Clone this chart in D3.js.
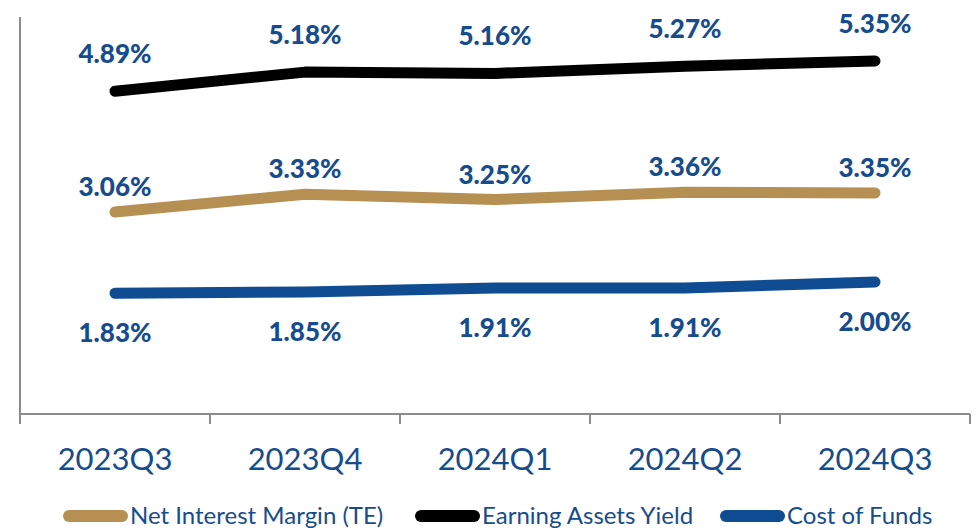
<!DOCTYPE html>
<html>
<head>
<meta charset="utf-8">
<script src="https://cdn.jsdelivr.net/npm/d3@7"></script>
<style>
  body { margin: 0; background: #fff; }
  svg { display: block; }
</style>
</head>
<body>
<div id="chart"></div>
<script>
// quarters on the x axis
var quarters = ["2023Q3", "2023Q4", "2024Q1", "2024Q2", "2024Q3"];

// series values (%)
var netInterestMargin = [3.06, 3.33, 3.25, 3.36, 3.35];
var earningAssetsYield = [4.89, 5.18, 5.16, 5.27, 5.35];
var costOfFunds = [1.83, 1.85, 1.91, 1.91, 2.00];

var seriesNames = ["Net Interest Margin (TE)", "Earning Assets Yield", "Cost of Funds"];

var width = 979, height = 530;
var labelBlue = "#164C8E";

var svg = d3.select("#chart")
  .append("svg")
  .attr("width", width)
  .attr("height", height);

var x = d3.scaleBand()
  .domain(quarters)
  .range([20, 970]);

var y = d3.scaleLinear()
  .domain([0, 6])
  .range([414, 18]);

// series setup: colour, width, label placement
var series = [
  { name: seriesNames[0], values: netInterestMargin, color: "#B68F52", width: 11, dy: -16 },
  { name: seriesNames[1], values: earningAssetsYield, color: "#000000", width: 11, dy: -28 },
  { name: seriesNames[2], values: costOfFunds, color: "#0F4C92", width: 11, dy: 49 }
];

// axes
var axisColor = "#8C8C8C";
svg.append("line")
  .attr("x1", 20).attr("x2", 20)
  .attr("y1", y(6) - 1).attr("y2", y(0))
  .attr("stroke", axisColor).attr("stroke-width", 2);

svg.append("line")
  .attr("x1", 20).attr("x2", 970)
  .attr("y1", y(0)).attr("y2", y(0))
  .attr("stroke", axisColor).attr("stroke-width", 2);

// tick marks sit on the band boundaries
var boundaries = quarters.map(function(q) { return x(q); }).concat([x.range()[1]]);
svg.selectAll(".tick-mark")
  .data(boundaries)
  .enter()
  .append("line")
  .attr("class", "tick-mark")
  .attr("x1", function(d) { return d; })
  .attr("x2", function(d) { return d; })
  .attr("y1", y(0))
  .attr("y2", y(0) + 10)
  .attr("stroke", axisColor).attr("stroke-width", 2);

// category labels
svg.append("g")
  .attr("transform", "translate(0," + y(0) + ")")
  .call(d3.axisBottom(x).tickSize(0).tickPadding(0))
  .call(function(g) { g.select(".domain").remove(); })
  .selectAll("text")
  .attr("dy", null)
  .attr("y", 56)
  .style("font-family", "Lato, 'Open Sans', sans-serif")
  .style("font-size", "31px")
  .style("fill", labelBlue);

var line = d3.line()
  .x(function(d, i) { return x(quarters[i]) + x.bandwidth() / 2; })
  .y(function(d) { return y(d); });

series.forEach(function(s) {
  svg.append("path")
    .datum(s.values)
    .attr("d", line)
    .attr("fill", "none")
    .attr("stroke", s.color)
    .attr("stroke-width", s.width)
    .attr("stroke-linecap", "round")
    .attr("stroke-linejoin", "round");

  svg.selectAll(null)
    .data(s.values)
    .enter()
    .append("text")
    .attr("x", function(d, i) { return x(quarters[i]) + x.bandwidth() / 2; })
    .attr("y", function(d) { return y(d) + s.dy; })
    .attr("text-anchor", "middle")
    .style("font-family", "Lato, 'Open Sans', sans-serif")
    .style("font-weight", "900")
    .style("font-size", "26px")
    .style("fill", labelBlue)
    .text(function(d) { return d.toFixed(2) + "%"; });
});

// legend
var legendX = [63, 415, 720];
var legend = svg.selectAll(".legend")
  .data(series)
  .enter()
  .append("g")
  .attr("class", "legend")
  .attr("transform", function(d, i) { return "translate(" + legendX[i] + ",516)"; });

legend.append("line")
  .attr("x1", 6).attr("x2", 59)
  .attr("y1", 0).attr("y2", 0)
  .attr("stroke", function(d) { return d.color; })
  .attr("stroke-width", 12)
  .attr("stroke-linecap", "round");

legend.append("text")
  .attr("x", 67)
  .attr("y", 8)
  .style("font-family", "Lato, 'Open Sans', sans-serif")
  .style("font-size", "24px")
  .style("fill", labelBlue)
  .text(function(d) { return d.name; });
</script>
</body>
</html>
